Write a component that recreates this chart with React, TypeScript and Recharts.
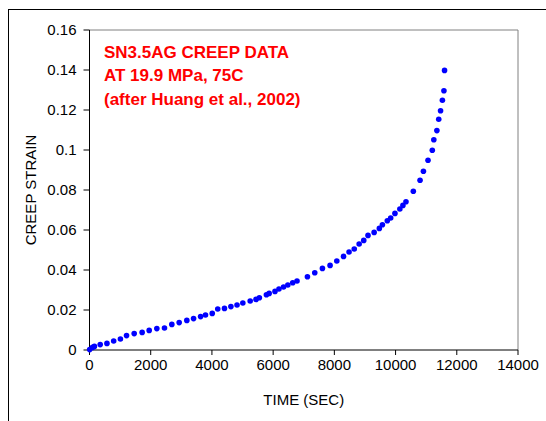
import { ScatterChart, Scatter, XAxis, YAxis, ReferenceLine } from 'recharts';

// creep test readings
const TIME_SEC = [
  6, 100, 160, 350, 570, 790, 1010, 1210, 1460, 1720, 1950, 2200, 2450, 2690, 2930, 3180,
  3400, 3630, 3790, 4010, 4190, 4410, 4620, 4820, 5010, 5250, 5440, 5550, 5780, 5870, 6060,
  6190, 6340, 6480, 6640, 6780, 7120, 7360, 7610, 7860, 8080, 8300, 8480, 8650, 8810, 8960,
  9100, 9300, 9470, 9570, 9730, 9840, 9980, 10140, 10240, 10340, 10580, 10800, 10910, 11060,
  11200, 11250, 11350, 11410, 11470, 11530, 11580, 11600,
];
const CREEP_STRAIN = [
  0.0002, 0.0013, 0.0018, 0.0027, 0.0033, 0.0045, 0.0055, 0.0072, 0.0082, 0.0088, 0.0098,
  0.0107, 0.011, 0.0128, 0.0137, 0.0148, 0.0157, 0.0167, 0.0175, 0.0183, 0.0205, 0.0208,
  0.0217, 0.0225, 0.0235, 0.0245, 0.0253, 0.0261, 0.0276, 0.0283, 0.0293, 0.0305, 0.0315,
  0.0325, 0.0336, 0.0345, 0.0366, 0.0386, 0.0408, 0.0423, 0.0445, 0.0468, 0.049, 0.0505,
  0.053, 0.0548, 0.0573, 0.0588, 0.0608, 0.0626, 0.0646, 0.066, 0.0683, 0.0705, 0.0723,
  0.0741, 0.0794, 0.0849, 0.0894, 0.0949, 0.0999, 0.1051, 0.1097, 0.1154, 0.1196, 0.1249,
  0.1296, 0.1398,
];
const X_TICKS = [0, 2000, 4000, 6000, 8000, 10000, 12000, 14000];
const Y_TICKS = [0, 0.02, 0.04, 0.06, 0.08, 0.1, 0.12, 0.14, 0.16];
const TITLE_LINES = ['SN3.5AG CREEP DATA', 'AT 19.9 MPa, 75C', '(after Huang et al., 2002)'];

const FONT = '"Liberation Sans", Arial, sans-serif';

const Dot = (props: any) => <circle cx={props.cx} cy={props.cy} r={2.8} fill="#0000ff" />;

export default function App() {
  const data = TIME_SEC.map((t, i) => ({ t, e: CREEP_STRAIN[i] }));
  const tickStyle = { fill: '#000', fontSize: 15, fontFamily: FONT };

  return (
    <div style={{ position: 'absolute', left: 0, top: 0, width: 546, height: 421, overflow: 'hidden' }}>
      <div
        style={{
          position: 'absolute',
          left: 8,
          top: 9,
          width: 538,
          height: 412,
          borderTop: '1px solid #000',
          borderLeft: '1px solid #000',
          boxSizing: 'border-box',
        }}
      />
      <ScatterChart
        width={546}
        height={421}
        margin={{ top: 30, right: 28, bottom: 21, left: 0 }}
        style={{ position: 'absolute', left: 0, top: 0 }}
      >
        <XAxis
          type="number"
          dataKey="t"
          domain={[0, 14000]}
          ticks={X_TICKS}
          interval={0}
          height={50}
          stroke="#000"
          tickSize={5}
          tick={tickStyle}
          tickMargin={4}
          label={{
            content: ({ viewBox }: any) => (
              <text
                x={viewBox.x + viewBox.width / 2}
                y={405}
                textAnchor="middle"
                fontSize={15}
                fontFamily={FONT}
                fill="#000"
              >
                TIME (SEC)
              </text>
            ),
          }}
        />
        <YAxis
          type="number"
          dataKey="e"
          domain={[0, 0.16]}
          ticks={Y_TICKS}
          interval={0}
          width={89.5}
          stroke="#000"
          tickSize={6}
          tick={tickStyle}
          tickMargin={7}
          label={{
            content: ({ viewBox }: any) => {
              const cy = viewBox.y + viewBox.height / 2;
              return (
                <text
                  x={30}
                  y={cy}
                  transform={`rotate(-90 30 ${cy})`}
                  textAnchor="middle"
                  dominantBaseline="central"
                  fontSize={15}
                  fontFamily={FONT}
                  fill="#000"
                >
                  CREEP STRAIN
                </text>
              );
            },
          }}
        />
        <ReferenceLine y={0.16} stroke="#808080" />
        <ReferenceLine x={14000} stroke="#808080" />
        <Scatter data={data} fill="#0000ff" shape={Dot} isAnimationActive={false} />
      </ScatterChart>
      <div
        style={{
          position: 'absolute',
          left: 104,
          top: 41,
          color: '#ff0000',
          fontFamily: FONT,
          fontWeight: 'bold',
          fontSize: 17,
          lineHeight: '23.3px',
          whiteSpace: 'nowrap',
        }}
      >
        {TITLE_LINES.map((l) => (
          <div key={l}>{l}</div>
        ))}
      </div>
    </div>
  );
}
